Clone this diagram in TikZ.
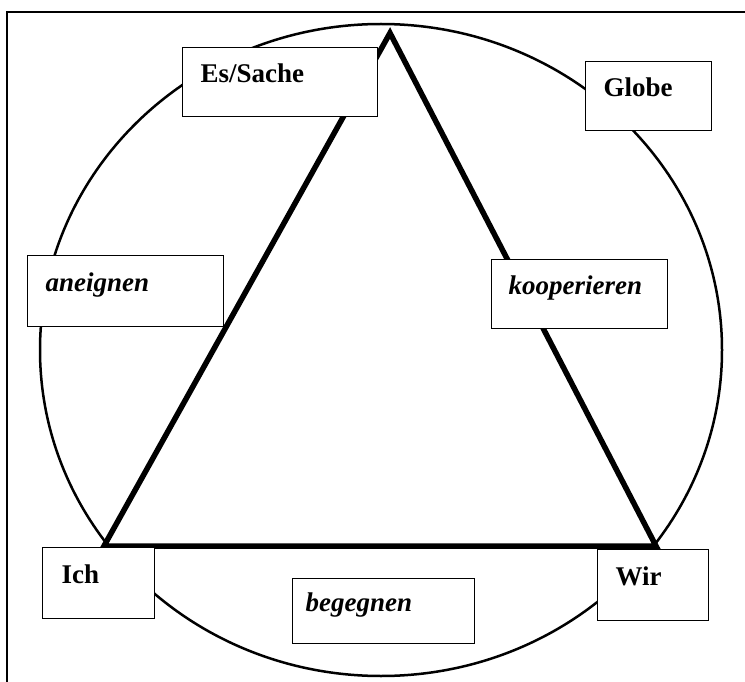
\documentclass[tikz,border=0pt]{standalone}
\usepackage{fontspec}
\setmainfont{Liberation Serif}
\tikzset{
  box/.style={draw, line width=1.4pt, fill=white, rectangle, anchor=north west, align=left,
    inner xsep=18pt, inner ysep=16pt, text height=19pt, text depth=18pt,
    font=\fontsize{27}{30}\selectfont\bfseries},
  itbox/.style={box, font=\fontsize{27}{30}\selectfont\bfseries\itshape},
  tri/.style={line width=5.5pt, line join=miter},
  ring/.style={line width=2.5pt},
  frame/.style={line width=1.8pt}
}
\begin{document}
\begin{tikzpicture}[x=1pt,y=-1pt]
\useasboundingbox (0,0) rectangle (745,682);
% frame (right and bottom edges lie outside the picture)
\coordinate (f1) at (7,700);
\coordinate (f2) at (7,12);
\coordinate (f3) at (760,12);
\draw[frame] (f1) -- (f2) -- (f3);
% circle
\draw[ring] (381,350) ellipse [x radius=341, y radius=326];
% triangle
\coordinate (top) at (390,33);
\coordinate (bl) at (104,546);
\coordinate (br) at (656,546);
\draw[tri] (top) -- (bl) -- (br) -- cycle;
% boxes
\node[box, text width=159pt] (es) at (182,47) {Es/Sache};
\node[box, text width=90pt] (globe) at (585,61) {Globe};
\node[itbox, text width=160pt, inner ysep=17pt] (an) at (27,255) {aneignen};
\node[itbox, text width=142pt, inner xsep=17pt] (koop) at (491,259) {kooperieren};
\node[box, text width=74pt, inner xsep=19pt, inner ysep=17pt] (ich) at (42,547) {Ich};
\node[itbox, text width=156pt, inner xsep=13pt, inner ysep=14pt] (beg) at (292,578) {begegnen};
\node[box, text width=75pt, inner ysep=17pt] (wir) at (597,549) {Wir};
\end{tikzpicture}
\end{document}
